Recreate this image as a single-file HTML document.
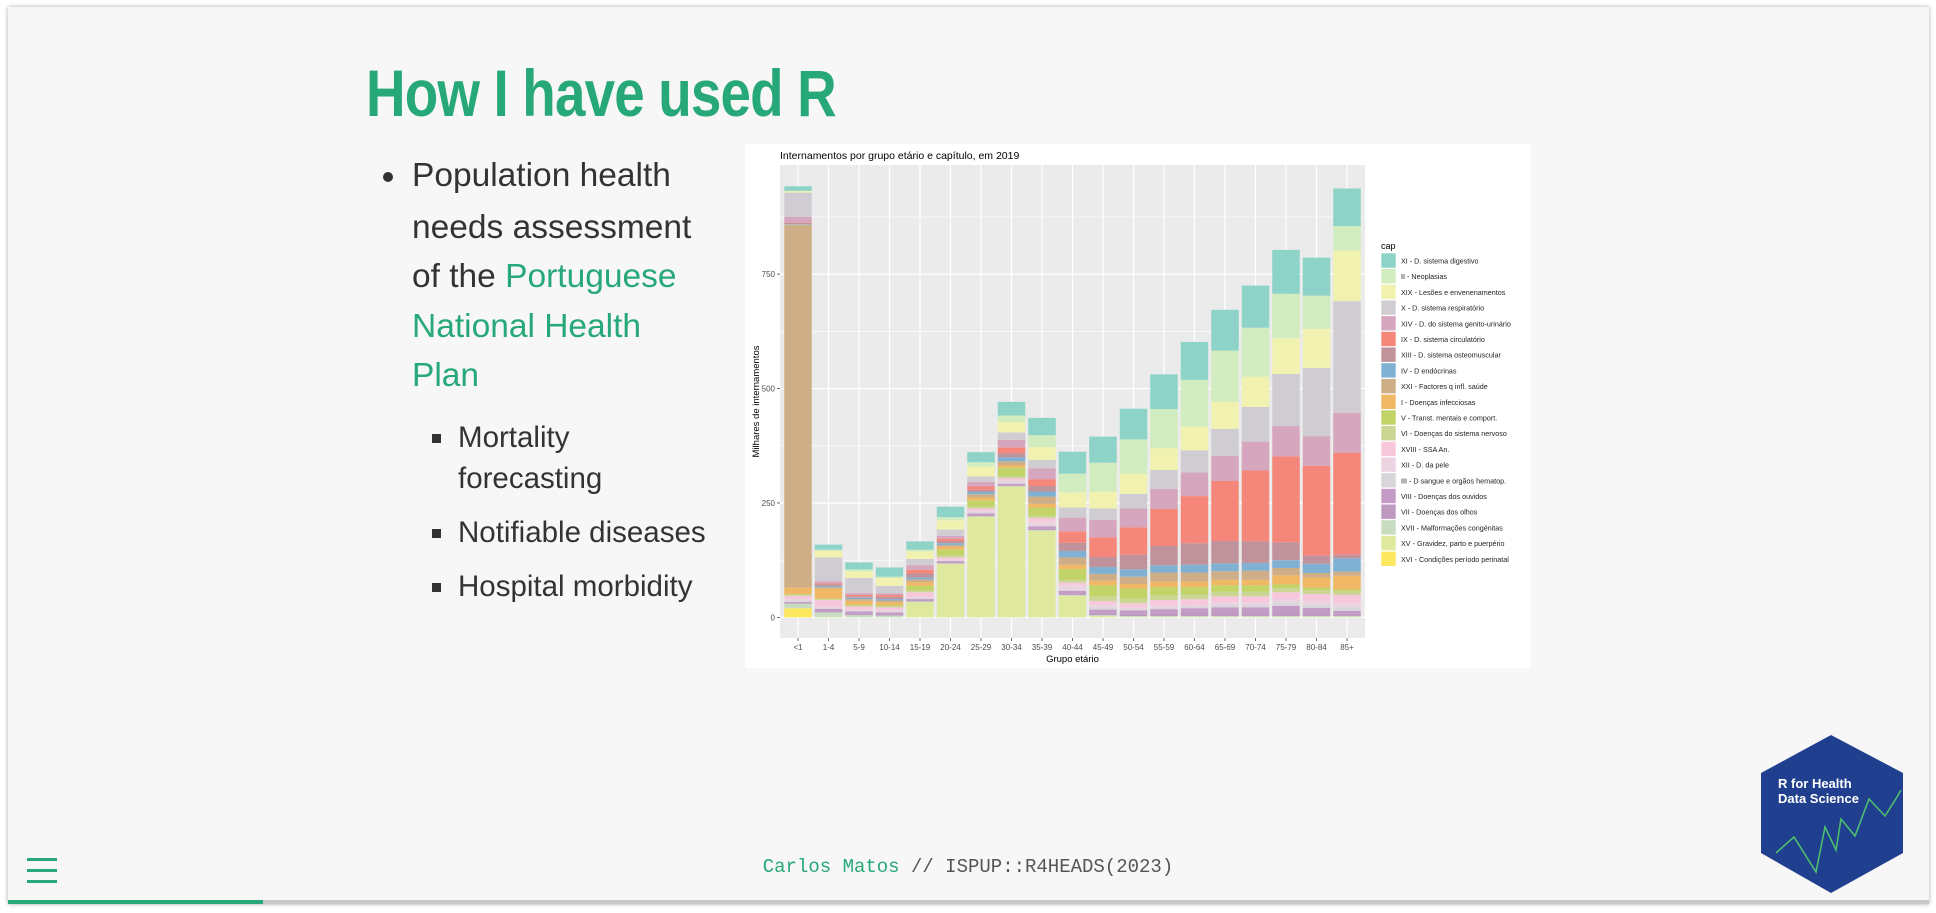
<!DOCTYPE html>
<html><head><meta charset="utf-8">
<style>
html,body{margin:0;padding:0;background:#fff;width:1936px;height:913px;overflow:hidden;font-family:"Liberation Sans",sans-serif;}
#slide{position:absolute;left:8px;top:7px;width:1921px;height:897px;background:#f7f7f7;box-shadow:0 0 4px rgba(0,0,0,0.35);}
.abs{position:absolute;}
#title{left:366px;top:55px;font-size:66px;font-weight:bold;color:#27a878;white-space:nowrap;transform:scaleX(0.83);transform-origin:left top;letter-spacing:-1px;}
.t{position:absolute;font-size:33.5px;color:#333;white-space:nowrap;line-height:50px;}
.g{color:#27a878;}
.dot{position:absolute;width:10px;height:10px;border-radius:5px;background:#333;}
.sq{position:absolute;width:9px;height:9px;background:#333;}
.s{font-size:29.5px;}
#footer{left:0;width:1936px;top:856px;text-align:center;font-family:"Liberation Mono",monospace;font-size:19px;color:#555;}
</style></head><body>
<div id="slide"></div>
<div class="abs" id="title">How I have used R</div>

<div class="dot" style="left:383px;top:172px"></div>
<div class="t" style="left:412px;top:151px">Population health</div>
<div class="t" style="left:412px;top:203px">needs assessment</div>
<div class="t" style="left:412px;top:252px">of the <span class="g">Portuguese</span></div>
<div class="t g" style="left:412px;top:302px">National Health</div>
<div class="t g" style="left:412px;top:351px">Plan</div>

<div class="sq" style="left:432px;top:434px"></div>
<div class="t s" style="left:458px;top:413px">Mortality</div>
<div class="t s" style="left:458px;top:454px">forecasting</div>
<div class="sq" style="left:432px;top:529px"></div>
<div class="t s" style="left:458px;top:508px">Notifiable diseases</div>
<div class="sq" style="left:432px;top:583px"></div>
<div class="t s" style="left:458px;top:562px">Hospital morbidity</div>

<svg id="chart" class="abs" style="left:745px;top:144px" width="786" height="524"></svg>

<div class="abs" id="footer"><span class="g">Carlos Matos</span> // ISPUP::R4HEADS(2023)</div>

<div class="abs" style="left:27px;top:858px;width:30px;height:28px">
<div style="position:absolute;left:0;top:0;width:30px;height:3px;background:#27a878"></div>
<div style="position:absolute;left:0;top:11px;width:30px;height:3px;background:#27a878"></div>
<div style="position:absolute;left:0;top:22px;width:30px;height:3px;background:#27a878"></div>
</div>
<div class="abs" style="left:8px;top:900px;width:1921px;height:4px;background:#c8c8c8"></div>
<div class="abs" style="left:8px;top:900px;width:255px;height:4px;background:#27a878"></div>

<svg class="abs" style="left:1755px;top:730px" width="150" height="168">
<polygon points="76,5 148,43 148,123 76,163 6,123 6,43" fill="#213f8f"/>
<polyline points="21,123 39,107 61,142 70,97 81,120 86,89 100,106 114,69 130,86 142,67 146,60" fill="none" stroke="#4bbf6f" stroke-width="1.6"/>
<text x="23" y="58" font-family="Liberation Sans, sans-serif" font-size="13" font-weight="bold" fill="#fff">R for Health</text>
<text x="23" y="73" font-family="Liberation Sans, sans-serif" font-size="13" font-weight="bold" fill="#fff">Data Science</text>
</svg>

<script>
const categories=["<1","1-4","5-9","10-14","15-19","20-24","25-29","30-34","35-39","40-44","45-49","50-54","55-59","60-64","65-69","70-74","75-79","80-84","85+"];
const yTicks=[0,250,500,750];
const seriesNames=["XI - D. sistema digestivo","II - Neoplasias","XIX - Lesões e envenenamentos","X - D. sistema respiratório","XIV - D.  do sistema genito-urinário","IX - D. sistema circulatório","XIII - D. sistema osteomuscular","IV - D endócrinas","XXI - Factores q infl. saúde","I - Doenças infecciosas","V - Transt. mentais e comport.","VI - Doenças do sistema nervoso","XVIII - SSA An.","XII - D. da pele","III - D sangue e orgãos hematop.","VIII - Doenças dos ouvidos","VII - Doenças dos olhos","XVII - Malformações congénitas","XV - Gravidez, parto e puerpério","XVI - Condições período perinatal"];
const seriesColors=["#8dd3c7","#d1ecbf","#f1f2b0","#d0cdd2","#d5a6bd","#f4877a","#c0939c","#80b1d3","#ceae86","#f0b865","#c2d467","#ccd694","#f7c8dc","#ecd3e1","#d9d6db","#c49ac6","#bf9ac0","#c8dcc0","#dfe99e","#fde75f"];
const sXI=[10,11,15,20,18,23,22,30,38,48,57,67,76,83,89,92,96,83,82];
const sII=[1,3,4,3,4,7,9,14,26,41,63,75,85,102,112,107,97,73,53];
const sXIX=[3,14,15,17,16,20,22,23,28,33,37,44,48,52,59,66,78,85,111];
const sX=[53,52,33,16,14,14,12,16,18,22,25,32,41,48,59,76,114,149,244];
const sXIV=[12,5,4,4,10,6,10,17,24,30,38,41,44,52,55,63,66,65,87];
const sIX=[1,2,3,4,8,5,7,12,15,25,43,60,81,103,131,155,188,196,223];
const sXIII=[3,3,3,5,9,5,5,9,12,18,22,32,42,47,49,47,39,18,8];
const sIV=[1,3,3,3,4,4,5,9,11,14,15,16,16,17,17,17,17,20,29];
const sXXI=[793,3,4,4,6,4,7,8,16,16,15,16,20,20,19,20,16,10,9];
const sI=[14,22,8,6,8,6,6,6,8,9,10,10,12,12,12,12,20,22,30];
const sV=[1,1,2,3,10,12,14,18,18,24,24,22,18,16,14,14,8,6,4];
const sVI=[3,2,2,2,4,5,4,5,5,6,10,10,10,10,10,10,9,8,8];
const sXVIII=[7,16,7,6,10,4,5,4,8,6,8,10,12,12,14,14,16,15,18];
const sXII=[3,2,2,3,3,3,4,6,8,10,6,3,4,4,5,5,7,8,9];
const sIII=[3,1,2,2,2,1,2,2,2,2,5,3,4,4,5,5,7,7,8];
const sVIII=[2,4,4,4,2,3,3,3,4,6,6,6,7,8,9,9,10,8,5];
const sVII=[2,4,4,3,3,2,3,2,4,3,6,6,8,9,10,10,12,10,6];
const sXVII=[10,10,5,4,2,1,1,1,2,2,2,2,2,2,2,2,2,2,2];
const sXV=[0,1,0,0,33,117,220,286,189,47,3,1,1,1,1,1,1,1,1];
const sXVI=[20,0,0,0,0,0,0,0,0,0,0,0,0,0,0,0,0,0,0];

const series=[sXI,sII,sXIX,sX,sXIV,sIX,sXIII,sIV,sXXI,sI,sV,sVI,sXVIII,sXII,sIII,sVIII,sVII,sXVII,sXV,sXVI];
const svg=document.getElementById('chart');
const NS='http://www.w3.org/2000/svg';
function mk(tag,attrs,parent){const e=document.createElementNS(NS,tag);for(const k in attrs)e.setAttribute(k,attrs[k]);(parent||svg).appendChild(e);return e;}
const PL=35,PR=620,PT=21,PB=494;
const y0=473.4,yk=0.4577;
function yS(v){return y0-v*yk;}
const bx0=53,bstep=30.5,bw=27.5;
function xS(i){return bx0+i*bstep;}

const bg=mk('rect',{x:0,y:0,width:786,height:524,fill:'#fff'});


const panel=mk('rect',{x:PL,y:PT,width:PR-PL,height:PB-PT,fill:'#ebebeb'});


for(let i=0;i<yTicks.length;i++){
  const v=yTicks[i];
  const mn=mk('line',{x1:PL,x2:PR,y1:yS(v+125),y2:yS(v+125),stroke:'#fff','stroke-width':0.6});
  
  
  const g=mk('line',{x1:PL,x2:PR,y1:yS(v),y2:yS(v),stroke:'#fff','stroke-width':1.2});
  
  
  const tk=mk('line',{x1:PL-3,x2:PL,y1:yS(v),y2:yS(v),stroke:'#444','stroke-width':0.8});
  
  
  const tl=mk('text',{x:PL-5,y:yS(v)+3,'text-anchor':'end','font-size':8,fill:'#4d4d4d','font-family':'Liberation Sans, sans-serif'});
  tl.textContent=v;
  
  
}
for(let i=0;i<categories.length;i++){
  const g=mk('line',{x1:xS(i),x2:xS(i),y1:PT,y2:PB,stroke:'#fff','stroke-width':1.2});
  
  
}
for(let i=0;i<categories.length;i++){
  let cum=0;
  for(let s=series.length-1;s>=0;s--){
    const v=series[s][i];
    if(v>0){
      const r=mk('rect',{x:xS(i)-bw/2,y:yS(cum+v),width:bw,height:v*yk,fill:seriesColors[s]});
      
      
    }
    cum+=v;
  }
  const tk=mk('line',{x1:xS(i),x2:xS(i),y1:PB,y2:PB+3,stroke:'#444','stroke-width':0.8});
  
  
  const tl=mk('text',{x:xS(i),y:PB+12,'text-anchor':'middle','font-size':8,fill:'#4d4d4d','font-family':'Liberation Sans, sans-serif'});
  tl.textContent=categories[i];
  
  
}
const ct=mk('text',{x:PL,y:15,'font-size':10.5,fill:'#000','font-family':'Liberation Sans, sans-serif'});
ct.textContent='Internamentos por grupo etário e capítulo, em 2019';


const xt=mk('text',{x:(PL+PR)/2,y:518,'text-anchor':'middle','font-size':9.5,fill:'#000','font-family':'Liberation Sans, sans-serif'});
xt.textContent='Grupo etário';


const yt=mk('text',{x:0,y:0,'text-anchor':'middle','font-size':9.5,fill:'#000','font-family':'Liberation Sans, sans-serif',transform:'translate(14,'+((PT+PB)/2)+') rotate(-90)'});
yt.textContent='Milhares de internamentos';


const lt=mk('text',{x:636,y:105,'font-size':9,fill:'#000','font-family':'Liberation Sans, sans-serif'});
lt.textContent='cap';


for(let s=0;s<seriesNames.length;s++){
  const yy=109+s*15.7;
  const k=mk('rect',{x:636,y:yy,width:15,height:15,fill:seriesColors[s],stroke:'#fff','stroke-width':0.6});
  
  
  const t=mk('text',{x:656,y:yy+10.5,'font-size':7.2,fill:'#222','font-family':'Liberation Sans, sans-serif'});
  t.textContent=seriesNames[s];
  
  
}
</script>
</body></html>
